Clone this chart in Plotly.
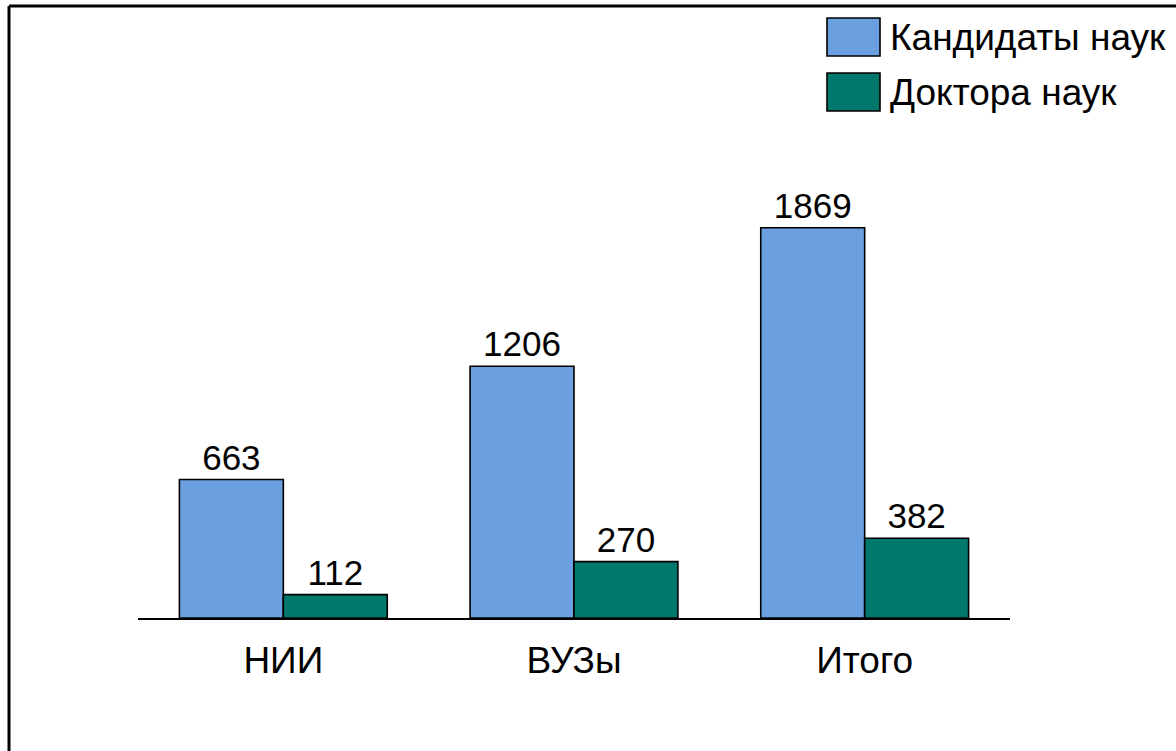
import plotly.graph_objects as go

categories = ["НИИ", "ВУЗы", "Итого"]
series_names = ["Кандидаты наук", "Доктора наук"]
candidates = [663, 1206, 1869]
doctors = [112, 270, 382]
colors = ["#6C9FDF", "#00786C"]

W, H = 1176, 751
L, R, T, B = 138, 166, 96, 133
pw, ph = W - L - R, H - T - B
FONT = "Liberation Sans, Arial, sans-serif"

def px(x):
    return (x - L) / pw

def py(y):
    return (H - B - y) / ph

fig = go.Figure()
for name, vals, col in zip(series_names, [candidates, doctors], colors):
    fig.add_trace(go.Bar(
        x=categories, y=vals, name=name,
        marker=dict(color=col, line=dict(color="black", width=1.6)),
        text=[str(v) for v in vals], textposition="outside",
        textfont=dict(size=35, color="black", family=FONT),
        constraintext="none",
        cliponaxis=False, showlegend=False,
    ))

shapes = [
    dict(type="line", xref="paper", yref="paper", x0=px(9), x1=px(1180), y0=py(6), y1=py(6),
         line=dict(color="black", width=3)),
    dict(type="line", xref="paper", yref="paper", x0=px(9), x1=px(9), y0=py(6), y1=py(760),
         line=dict(color="black", width=3)),
]
annotations = []
for i, (name, col) in enumerate(zip(series_names, colors)):
    y0 = 18 + i * 55
    shapes.append(dict(type="rect", xref="paper", yref="paper",
                       x0=px(827), x1=px(880), y0=py(y0), y1=py(y0 + 38),
                       fillcolor=col, line=dict(color="black", width=1.6)))
    annotations.append(dict(xref="paper", yref="paper", x=px(888), y=py(y0 + 20),
                            xanchor="left", yanchor="middle", text=name, showarrow=False,
                            font=dict(size=37, color="black", family=FONT)))

fig.update_layout(
    width=W, height=H,
    margin=dict(l=L, r=R, t=T, b=B),
    paper_bgcolor="white", plot_bgcolor="white",
    barmode="group", bargap=0.285, bargroupgap=0,
    font=dict(family=FONT, size=36, color="black"),
    xaxis=dict(showline=True, linecolor="black", linewidth=2, ticks="", showgrid=False,
               tickfont=dict(size=37), ticklabelstandoff=9, range=[-0.5, 2.5]),
    yaxis=dict(visible=False, range=[0, 2500], showgrid=False, zeroline=False),
    shapes=shapes, annotations=annotations,
)

fig.write_html("out.html", config={"displayModeBar": False},
               post_script="document.body.style.margin='0';")
